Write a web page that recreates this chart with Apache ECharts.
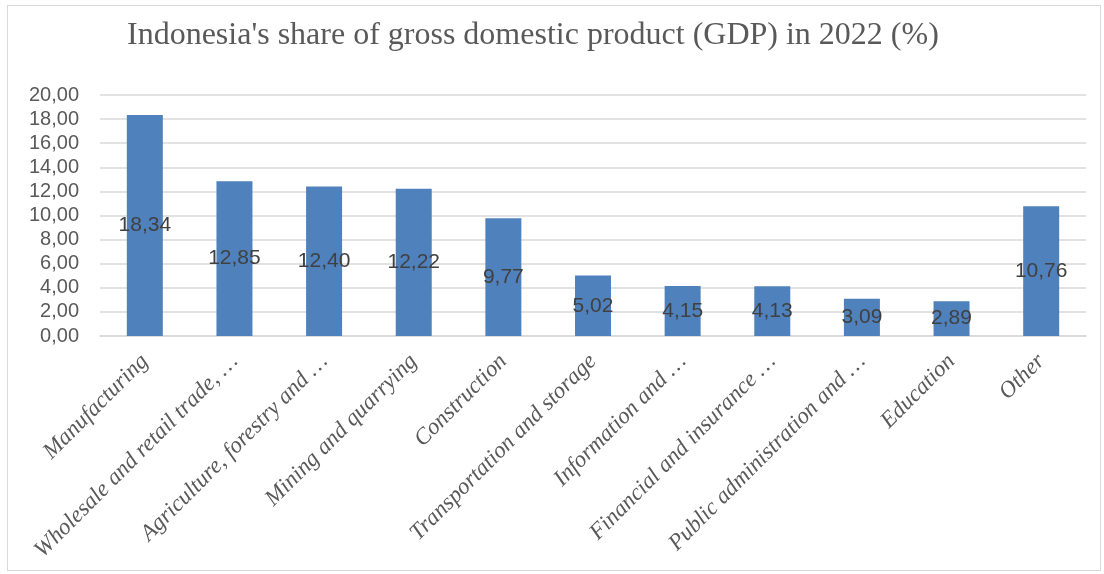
<!DOCTYPE html>
<html>
<head>
<meta charset="utf-8">
<script src="https://cdn.jsdelivr.net/npm/echarts@6/dist/echarts.min.js"></script>
<style>
  html, body { margin: 0; padding: 0; background: #fff; }
  #chart { width: 1104px; height: 574px; }
  .frame { position: absolute; left: 7px; top: 5px; width: 1094px; height: 566px; border: 1px solid #d9d9d9; box-sizing: border-box; pointer-events: none; }
</style>
</head>
<body>
<div id="chart"></div>
<div class="frame"></div>
<script>
  const categories = [
    'Manufacturing',
    'Wholesale and retail trade, …',
    'Agriculture, forestry and …',
    'Mining and quarrying',
    'Construction',
    'Transportation and storage',
    'Information and …',
    'Financial and insurance …',
    'Public administration and …',
    'Education',
    'Other'
  ]
  const shares = [18.34, 12.85, 12.40, 12.22, 9.77, 5.02, 4.15, 4.13, 3.09, 2.89, 10.76]

  const fmt = v => Number(v).toFixed(2).replace('.', ',')

  const chart = echarts.init(document.getElementById('chart'))
  chart.setOption({
    animation: false,
    title: {
      text: "Indonesia's share of gross domestic product (GDP) in 2022 (%)",
      left: 122,
      top: 15,
      textStyle: { fontFamily: 'Liberation Serif', fontWeight: 'normal', fontSize: 32, color: '#595959' }
    },
    grid: { left: 100, right: 18, top: 95, bottom: 238 },
    xAxis: {
      type: 'category',
      data: categories,
      axisLine: { lineStyle: { color: '#d9d9d9', width: 1.5 } },
      axisTick: { show: false },
      axisLabel: {
        interval: 0,
        rotate: 45,
        margin: 22,
        fontFamily: 'Liberation Serif',
        fontStyle: 'italic',
        fontSize: 23,
        color: '#595959'
      }
    },
    yAxis: {
      type: 'value',
      min: 0,
      max: 20,
      interval: 2,
      axisLine: { show: false },
      axisTick: { show: false },
      splitLine: { lineStyle: { color: '#d9d9d9', width: 1.5 } },
      axisLabel: {
        margin: 21,
        fontFamily: 'Liberation Sans',
        fontSize: 20,
        color: '#595959',
        formatter: fmt
      }
    },
    series: [{
      type: 'bar',
      data: shares,
      barWidth: 36,
      itemStyle: { color: '#4f81bd' },
      label: {
        show: true,
        position: 'inside',
        fontFamily: 'Liberation Sans',
        fontSize: 21,
        color: '#404040',
        formatter: p => fmt(p.value)
      }
    }]
  })
</script>
</body>
</html>
